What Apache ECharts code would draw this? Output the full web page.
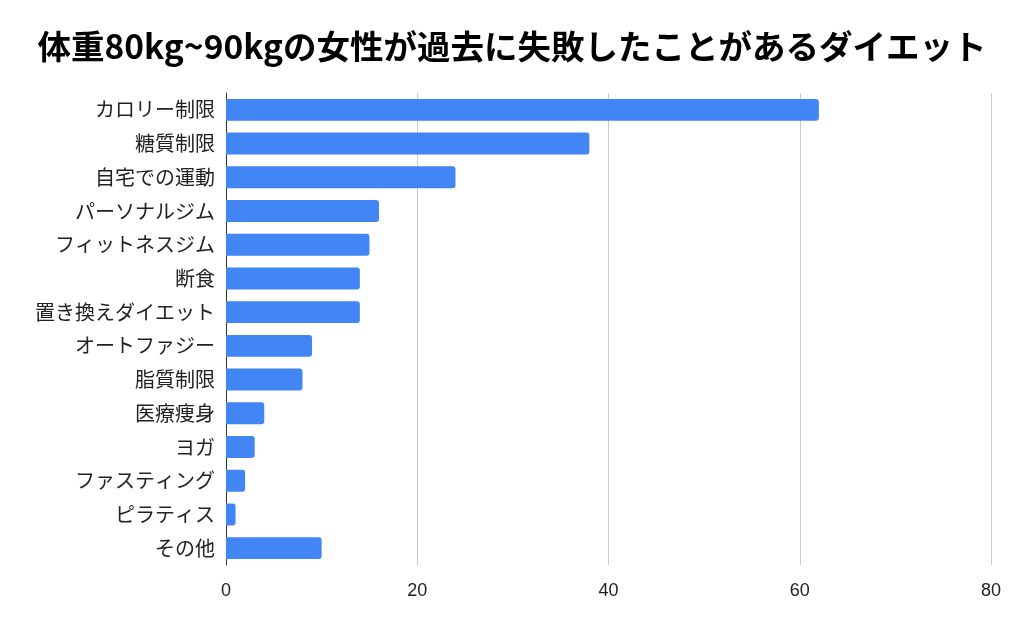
<!DOCTYPE html>
<html><head><meta charset="utf-8">
<script src="https://cdn.jsdelivr.net/npm/echarts@6/dist/echarts.min.js"></script>
<style>html,body{margin:0;padding:0;background:#fff}#c{width:1024px;height:633px}</style>
</head><body><div id="c"></div>
<script>
const titleText = '体重80kg~90kgの女性が過去に失敗したことがあるダイエット';
const categories = ['カロリー制限','糖質制限','自宅での運動','パーソナルジム','フィットネスジム','断食','置き換えダイエット','オートファジー','脂質制限','医療痩身','ヨガ','ファスティング','ピラティス','その他'];
const values = [62,38,24,16,15,14,14,9,8,4,3,2,1,10];
const xTicks = [0,20,40,60,80];

const chart = echarts.init(document.getElementById('c'), null, {renderer:'canvas'});
chart.setOption({
  animation:false,
  title:{text:titleText,left:'center',top:25,textStyle:{fontFamily:'Noto Sans CJK JP',fontWeight:'bold',fontSize:33.5,color:'#000'}},
  grid:{left:226,right:33,top:93,bottom:68,containLabel:false},
  xAxis:{type:'value',min:xTicks[0],max:xTicks[xTicks.length-1],interval:20,
    axisLine:{show:false},axisTick:{show:false},
    splitLine:{show:true,lineStyle:{color:'#cccccc',width:1}},
    axisLabel:{fontFamily:'Liberation Sans, Arial',fontSize:18,color:'#222',margin:17}},
  yAxis:{type:'category',data:categories,inverse:true,
    axisLine:{show:true,lineStyle:{color:'#333',width:1}},axisTick:{show:false},
    axisLabel:{fontFamily:'Noto Sans CJK JP',fontSize:20,color:'#222',margin:11}},
  series:[{type:'bar',data:values,barCategoryGap:'35%',
    itemStyle:{color:'#4285F4',borderRadius:[0,3,3,0]}}]
});
</script></body></html>
